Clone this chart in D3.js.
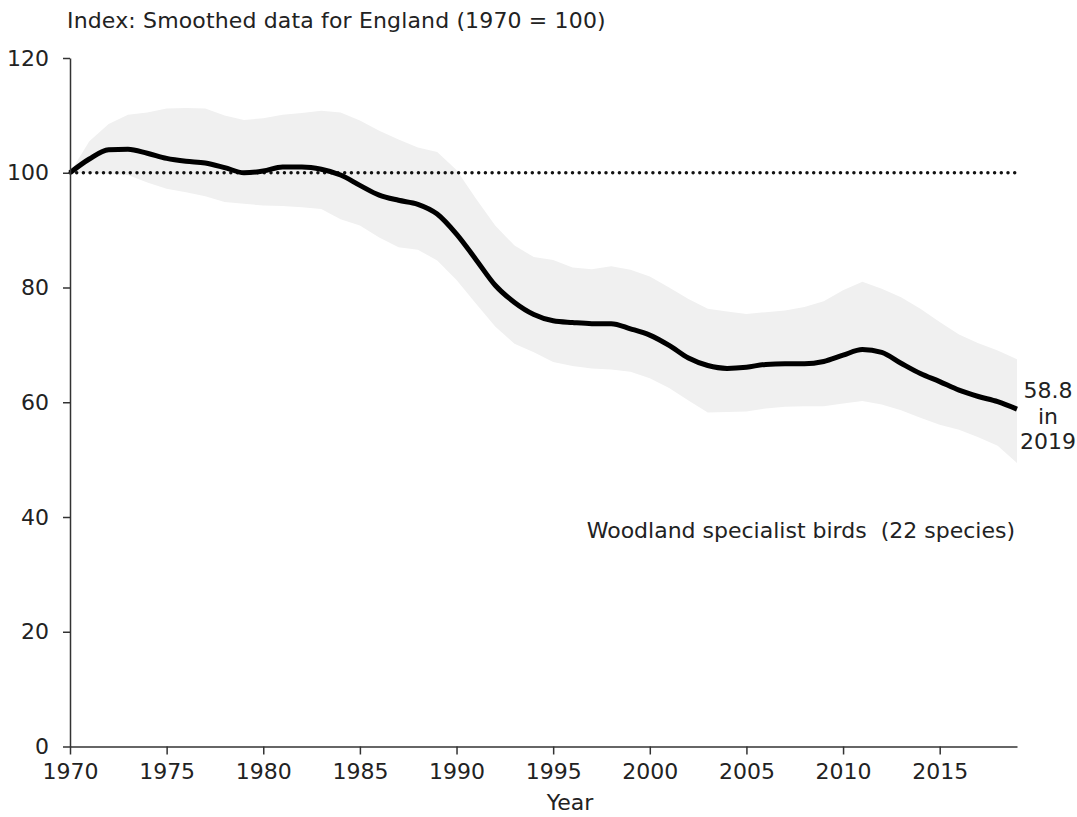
<!DOCTYPE html>
<html>
<head>
<meta charset="utf-8">
<script src="https://cdn.jsdelivr.net/npm/d3@7"></script>
<style>
  html, body { margin: 0; padding: 0; background: #fff; }
  svg text { font-family: "DejaVu Sans", Verdana, sans-serif; fill: #222; }
</style>
</head>
<body>
<svg id="chart" width="1077" height="817"></svg>
<script>
// Woodland specialist birds index, England (smoothed, 1970 = 100)
const years = d3.range(1970, 2020);
const indexValues = [
  100.0, 102.4, 104.0, 104.1, 103.4, 102.5, 102.0, 101.7, 100.9, 100.0,
  100.3, 101.0, 101.0, 100.6, 99.6, 97.8, 96.1, 95.2, 94.5, 92.8,
  89.3, 84.9, 80.4, 77.4, 75.3, 74.2, 73.9, 73.7, 73.7, 72.8,
  71.7, 69.9, 67.7, 66.4, 65.9, 66.1, 66.6, 66.7, 66.7, 67.1,
  68.2, 69.2, 68.7, 66.8, 65.0, 63.6, 62.1, 61.0, 60.1, 58.8
];
const upperCI = [
  100.0, 105.5, 108.5, 110.1, 110.5, 111.2, 111.3, 111.2, 110.0, 109.2,
  109.5, 110.1, 110.4, 110.8, 110.5, 109.1, 107.3, 105.8, 104.4, 103.6,
  100.5, 95.5, 90.8, 87.3, 85.3, 84.8, 83.5, 83.2, 83.7, 83.1,
  81.9, 80.0, 78.0, 76.3, 75.8, 75.4, 75.7, 76.0, 76.6, 77.6,
  79.5, 81.0, 79.8, 78.3, 76.3, 74.0, 71.8, 70.3, 69.0, 67.5
];
const lowerCI = [
  100.0, 100.0, 99.8, 99.6, 98.3, 97.2, 96.6, 95.9, 94.9, 94.6,
  94.3, 94.2, 94.0, 93.7, 91.9, 90.8, 88.7, 87.0, 86.6, 84.7,
  81.3, 77.2, 73.2, 70.2, 68.7, 67.0, 66.3, 65.9, 65.7, 65.3,
  64.2, 62.5, 60.3, 58.2, 58.3, 58.4, 58.9, 59.2, 59.3, 59.3,
  59.8, 60.2, 59.6, 58.6, 57.3, 56.1, 55.2, 53.9, 52.4, 49.4
];
const xTicks = [1970, 1975, 1980, 1985, 1990, 1995, 2000, 2005, 2010, 2015];
const yTicks = [0, 20, 40, 60, 80, 100, 120];
const baseline = 100;

const rows = years.map((y, i) => ({ year: y, v: indexValues[i], lo: lowerCI[i], hi: upperCI[i] }));

const svg = d3.select("#chart");
const x = d3.scaleLinear().domain([1970, 2019]).range([70, 1017]);
const y = d3.scaleLinear().domain([0, 120]).range([746.5, 58]);
const fs = 22;
const font = "'DejaVu Sans', Verdana, sans-serif";

// confidence band
svg.append("path")
  .datum(rows)
  .attr("fill", "#f0f0f0")
  .attr("d", d3.area().x(d => x(d.year)).y0(d => y(d.lo)).y1(d => y(d.hi)));

// dotted reference line at 1970 level
svg.append("line")
  .attr("x1", x(1970)).attr("x2", x(2019))
  .attr("y1", y(baseline)).attr("y2", y(baseline))
  .attr("stroke", "#111").attr("stroke-width", 3.5)
  .attr("stroke-linecap", "round").attr("stroke-dasharray", "0 6.7");

// index line
svg.append("path")
  .datum(rows)
  .attr("fill", "none").attr("stroke", "#000").attr("stroke-width", 5)
  .attr("stroke-linejoin", "round")
  .attr("d", d3.line().x(d => x(d.year)).y(d => y(d.v)).curve(d3.curveMonotoneX));

// axes
const xAxis = svg.append("g").attr("transform", `translate(0,${y(0)})`)
  .call(d3.axisBottom(x).tickValues(xTicks).tickFormat(d3.format("d")).tickSizeOuter(0).tickSizeInner(8).tickPadding(9));
const yAxis = svg.append("g").attr("transform", `translate(${x(1970)},0)`)
  .call(d3.axisLeft(y).tickValues(yTicks).tickSizeOuter(0).tickSizeInner(7).tickPadding(14));
[xAxis, yAxis].forEach(g => {
  g.select(".domain").attr("stroke", "#333").attr("stroke-width", 1.5);
  g.selectAll(".tick line").attr("stroke", "#333").attr("stroke-width", 1.5);
  g.selectAll(".tick text").style("font-size", fs + "px").style("font-family", font).attr("fill", "#222");
});

// titles and labels
svg.append("text").attr("x", 67).attr("y", 28).style("font-size", fs + "px")
  .style("letter-spacing", "0.15px")
  .text("Index: Smoothed data for England (1970 = 100)");
svg.append("text").attr("x", 570).attr("y", 810).attr("text-anchor", "middle").style("font-size", fs + "px")
  .text("Year");
svg.append("text").attr("x", 1015).attr("y", 538).attr("text-anchor", "end").style("font-size", fs + "px")
  .style("white-space", "pre").text("Woodland specialist birds  (22 species)");

const last = rows[rows.length - 1];
const endLabel = svg.append("text").attr("text-anchor", "middle").style("font-size", fs + "px");
[last.v.toFixed(1), "in", String(last.year)].forEach((t, i) => {
  endLabel.append("tspan").attr("x", 1048).attr("y", 398 + i * 25.5).text(t);
});
</script>
</body>
</html>
